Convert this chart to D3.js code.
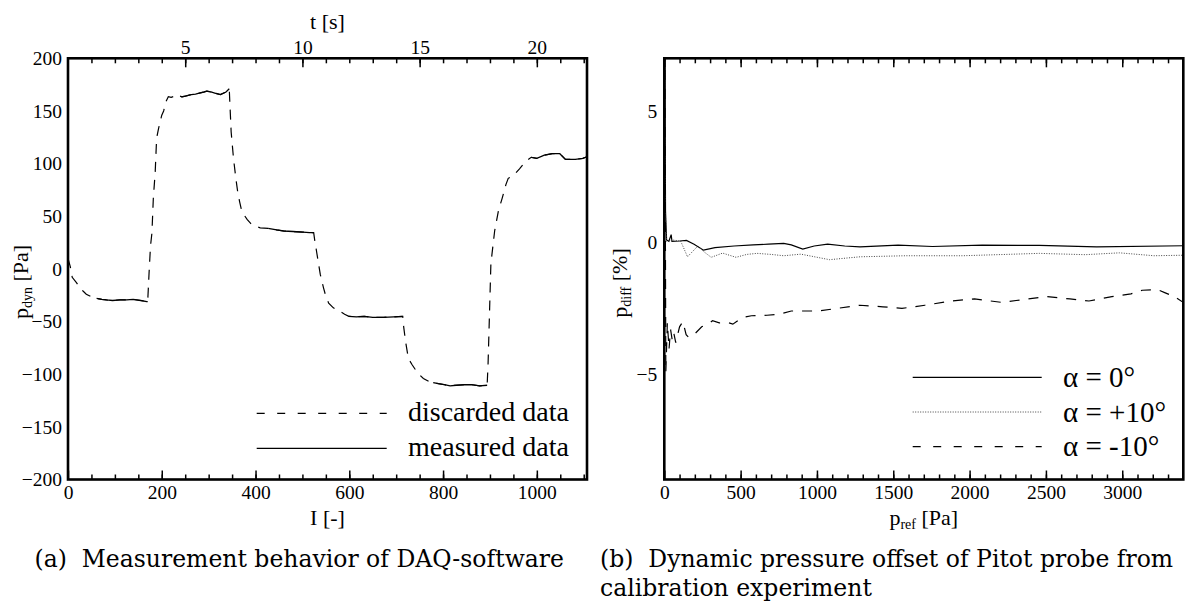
<!DOCTYPE html>
<html><head>
<meta charset="utf-8">
<script src="https://d3js.org/d3.v7.min.js"></script>
<style>
    body { margin: 0; background: white; }
    svg text { font-family: "Liberation Serif", "Times New Roman", serif; fill: black; }
    svg text.caption { font-family: "DejaVu Serif", serif; font-size: 23.5px; white-space: pre; }
</style>
</head><body>
<svg id="fig" width="1198" height="606"></svg>
<script>
    // ---- panel (a): DAQ samples ----
    const sampleI = [0, 5, 9, 18, 25, 32, 39, 50, 61, 72, 82, 95, 111, 125, 139, 155, 168, 170, 173, 176, 179, 182, 186, 189, 193, 200, 204, 209, 214, 220, 227, 239, 243, 250, 263, 272, 280, 290, 296, 305, 313, 325, 337, 344, 345, 348, 353, 358, 362, 366, 370, 376, 382, 390, 399, 410, 427, 445, 460, 480, 501, 515, 524, 526, 530, 538, 545, 550, 556, 566, 579, 590, 599, 615, 632, 650, 673, 695, 714, 716, 720, 726, 734, 746, 758, 770, 779, 790, 803, 815, 828, 845, 861, 878, 894, 896, 902, 910, 918, 926, 934, 939, 951, 963, 975, 988, 1000, 1016, 1033, 1049, 1061, 1070, 1082, 1098, 1107];
    const pDyn = [10, 2, -8, -13, -17.5, -21, -24, -26.5, -28, -29, -29.5, -30, -29.5, -29.5, -29, -30, -31, -31, -3, 22, 34, 67, 92, 124, 133, 146, 150, 159, 163.5, 163, 164, 164, 163.4, 164, 165.6, 166, 167, 168, 168.8, 168, 167, 165.6, 168, 171, 160, 130, 105, 86, 73, 64, 56, 51, 47, 43, 40.6, 39, 38.4, 37, 36, 35.5, 35, 34.5, 34.4, 28, 17, -5, -18, -26, -32.5, -37, -40, -43, -45, -45.5, -45, -46, -46, -45.5, -45, -55, -69, -85, -91, -99, -104, -107, -108, -109, -110, -111, -110.5, -110, -110, -111, -110.5, -90, 5, 36, 55, 67, 80, 86, 89, 95, 101.6, 106, 105, 108, 109.4, 109.4, 104, 104, 104, 105, 106.5];
    // sample ranges that were kept (solid)
    const measuredRanges = [[61, 170], [239, 344], [427, 524], [599, 714], [779, 894], [988, 1107]];

    const iTicks = [0, 200, 400, 600, 800, 1000];
    const tTicks = [5, 10, 15, 20];
    const pDynTicks = [200, 150, 100, 50, 0, -50, -100, -150, -200];

    // ---- panel (b): Pitot offset ----
    const refA0 = [3, 8, 15, 30, 45, 50, 100, 145, 195, 257, 332, 457, 582, 682, 782, 832, 907, 982, 1070, 1182, 1282, 1532, 1757, 2082, 2457, 2832, 3407];
    const diffA0 = [9, 1.2, 0.1, 0.05, 0.3, 0.05, 0.06, 0.08, -0.06, -0.29, -0.19, -0.13, -0.09, -0.06, -0.03, -0.09, -0.25, -0.13, -0.06, -0.13, -0.16, -0.1, -0.15, -0.1, -0.11, -0.16, -0.12];
    const refAp10 = [3, 8, 15, 50, 107, 152, 220, 260, 307, 382, 470, 540, 607, 700, 782, 895, 1082, 1282, 1582, 1957, 2457, 2757, 2982, 3207, 3407];
    const diffAp10 = [9, 1.0, 0.05, 0.1, 0.06, -0.54, -0.13, -0.35, -0.56, -0.4, -0.56, -0.45, -0.41, -0.45, -0.5, -0.44, -0.65, -0.54, -0.5, -0.5, -0.41, -0.46, -0.39, -0.5, -0.48];
    const refAm10 = [3, 10, 20, 31, 41, 51, 61, 75, 100, 122, 143, 160, 194, 245, 285, 316, 360, 418, 449, 510, 571, 673, 755, 832, 1007, 1132, 1282, 1432, 1557, 1707, 1882, 2032, 2207, 2332, 2507, 2657, 2782, 2932, 3057, 3132, 3232, 3282, 3340, 3407];
    const diffAm10 = [8, -4.94, -3.04, -4.05, -3.3, -3.67, -3.4, -3.8, -3.2, -3.0, -3.5, -3.6, -3.5, -3.2, -3.1, -2.97, -3.05, -3.04, -3.1, -2.85, -2.78, -2.76, -2.72, -2.6, -2.6, -2.5, -2.38, -2.44, -2.5, -2.38, -2.22, -2.14, -2.27, -2.18, -2.05, -2.14, -2.22, -2.05, -1.95, -1.81, -1.79, -1.91, -2.05, -2.3];

    const refTicks = [0, 500, 1000, 1500, 2000, 2500, 3000];
    const diffTicks = [5, 0, -5];

    const legendA = ["discarded data", "measured data"];
    const legendB = ["\u03b1 = 0\u00b0", "\u03b1 = +10\u00b0", "\u03b1 = -10\u00b0"];

    let svg = d3.select("svg#fig");
    let plain = d3.format("d");

    // helper: ticks from an axis, no domain line, serif labels
    function drawAxis(axis, ty, fontSize) {
        let g = svg.append("g")
            .attr("transform", "translate(0," + ty + ")")
            .call(axis);
        g.select(".domain").remove();
        g.attr("font-family", null).attr("font-size", fontSize);
        g.selectAll("line").attr("stroke-width", 1.5);
        return g;
    }

    // ================= panel (a) =================
    let xI = d3.scaleLinear().domain([0, 1107]).range([68, 587]);
    let xT = d3.scaleLinear().domain([0, 1107 / 50]).range([68, 587]);   // 50 samples per second
    let yP = d3.scaleLinear().domain([-200, 200]).range([479.5, 58.3]);

    let lineA = d3.line()
        .x((d) => xI(d[0]))
        .y((d) => yP(d[1]));
    let ptsA = sampleI.map((d, i) => [d, pDyn[i]]);

    svg.append("path")
        .attr("d", lineA(ptsA))
        .attr("fill", "none")
        .attr("stroke", "black")
        .attr("stroke-width", 1.2)
        .attr("stroke-dasharray", "10,8");

    measuredRanges.forEach((r) => {
        svg.append("path")
            .attr("d", lineA(ptsA.filter((d) => d[0] >= r[0] && d[0] <= r[1])))
            .attr("fill", "none")
            .attr("stroke", "black")
            .attr("stroke-width", 1.3);
    });

    // bottom: I [-]
    drawAxis(d3.axisBottom(xI).tickValues(d3.range(50, 1107, 50)).tickSize(-5).tickFormat(""), 479.5, 19.5);
    drawAxis(d3.axisBottom(xI).tickValues(iTicks).tickSize(-9).tickPadding(6).tickFormat(plain), 479.5, 19.5);
    // top: t [s]
    drawAxis(d3.axisTop(xT).tickValues(d3.range(1, 23, 1)).tickSize(-5).tickFormat(""), 58.3, 19.5);
    drawAxis(d3.axisTop(xT).tickValues(tTicks).tickSize(-9).tickPadding(4).tickFormat(plain), 58.3, 19.5);
    // left labels only
    drawAxis(d3.axisLeft(yP).tickValues(pDynTicks).tickSize(0).tickPadding(6).tickFormat(plain), 0, 19.5)
        .attr("transform", "translate(68,0)");

    svg.append("rect")
        .attr("x", 68).attr("y", 58.3)
        .attr("width", 519).attr("height", 421.2)
        .attr("fill", "none").attr("stroke", "black").attr("stroke-width", 2.6);

    // axis titles
    svg.append("text").attr("x", 327.5).attr("y", 29).attr("text-anchor", "middle")
        .attr("font-size", 22).text("t [s]");
    svg.append("text").attr("x", 327.5).attr("y", 525).attr("text-anchor", "middle")
        .attr("font-size", 22).text("I [-]");
    let tyA = svg.append("text").attr("transform", "translate(28,282) rotate(-90)")
        .attr("text-anchor", "middle").attr("font-size", 22);
    tyA.append("tspan").text("p");
    tyA.append("tspan").attr("font-size", 14).attr("dy", 4).text("dyn");
    tyA.append("tspan").attr("dy", -4).text(" [Pa]");

    // legend (a)
    legendA.forEach((d, i) => {
        let ly = 413.3 + i * 35;
        svg.append("line")
            .attr("x1", 256.7).attr("x2", 386.7)
            .attr("y1", ly).attr("y2", ly)
            .attr("stroke", "black").attr("stroke-width", 1.2)
            .attr("stroke-dasharray", i == 0 ? "8,12.5" : null);
        svg.append("text").attr("x", 408).attr("y", ly + 8)
            .attr("font-size", 28).text(d);
    });

    // ================= panel (b) =================
    let xR = d3.scaleLinear().domain([0, 3400]).range([664.3, 1183.3]);
    let yD = d3.scaleLinear().domain([-9, 7]).range([479.5, 58.3]);

    svg.append("clipPath").attr("id", "clipB")
        .append("rect").attr("x", 664.3).attr("y", 58.3).attr("width", 519).attr("height", 421.2);

    let lineB = d3.line()
        .x((d) => xR(d[0]))
        .y((d) => yD(d[1]));

    let seriesB = [
        { ref: refA0, diff: diffA0, dash: null, color: "black", w: 1.2 },
        { ref: refAp10, diff: diffAp10, dash: "1,1.5", color: "#444", w: 1 },
        { ref: refAm10, diff: diffAm10, dash: "10,9", color: "black", w: 1.2 }
    ];
    seriesB.forEach((s) => {
        svg.append("path")
            .attr("d", lineB(s.ref.map((d, i) => [d, s.diff[i]])))
            .attr("clip-path", "url(#clipB)")
            .attr("fill", "none")
            .attr("stroke", s.color)
            .attr("stroke-width", s.w)
            .attr("stroke-dasharray", s.dash);
    });

    drawAxis(d3.axisBottom(xR).tickValues(d3.range(100, 3400, 100)).tickSize(-5).tickFormat(""), 479.5, 19.5);
    drawAxis(d3.axisBottom(xR).tickValues(refTicks).tickSize(-9).tickPadding(6).tickFormat(plain), 479.5, 19.5);
    drawAxis(d3.axisTop(xR).tickValues(d3.range(100, 3400, 100)).tickSize(-5).tickFormat(""), 58.3, 19.5);
    drawAxis(d3.axisTop(xR).tickValues(refTicks).tickSize(-9).tickFormat(""), 58.3, 19.5);
    drawAxis(d3.axisLeft(yD).tickValues(diffTicks).tickSize(0).tickPadding(7).tickFormat(plain), 0, 19.5)
        .attr("transform", "translate(664.3,0)");

    svg.append("rect")
        .attr("x", 664.3).attr("y", 58.3)
        .attr("width", 519).attr("height", 421.2)
        .attr("fill", "none").attr("stroke", "black").attr("stroke-width", 2.6);

    let txB = svg.append("text").attr("x", 923.8).attr("y", 525).attr("text-anchor", "middle")
        .attr("font-size", 22);
    txB.append("tspan").text("p");
    txB.append("tspan").attr("font-size", 14).attr("dy", 4).text("ref");
    txB.append("tspan").attr("dy", -4).text(" [Pa]");

    let tyB = svg.append("text").attr("transform", "translate(627,283) rotate(-90)")
        .attr("text-anchor", "middle").attr("font-size", 22);
    tyB.append("tspan").text("p");
    tyB.append("tspan").attr("font-size", 14).attr("dy", 4).text("diff");
    tyB.append("tspan").attr("dy", -4).text(" [%]");

    // legend (b)
    legendB.forEach((d, i) => {
        let ly = 377.3 + i * 34.7;
        svg.append("line")
            .attr("x1", 912.7).attr("x2", 1041.7)
            .attr("y1", ly).attr("y2", ly)
            .attr("stroke", seriesB[i].color).attr("stroke-width", seriesB[i].w)
            .attr("stroke-dasharray", i == 2 ? "8,12.5" : seriesB[i].dash);
        svg.append("text").attr("x", 1063).attr("y", ly + 9.5)
            .attr("font-size", 29).text(d);
    });

    // ---- captions ----
    svg.append("text").attr("class", "caption").attr("x", 34.5).attr("y", 567)
        .text("(a)  Measurement behavior of DAQ-software");
    svg.append("text").attr("class", "caption").attr("x", 600).attr("y", 567)
        .text("(b)  Dynamic pressure offset of Pitot probe from");
    svg.append("text").attr("class", "caption").attr("x", 600).attr("y", 596)
        .text("calibration experiment");
</script>
</body></html>
